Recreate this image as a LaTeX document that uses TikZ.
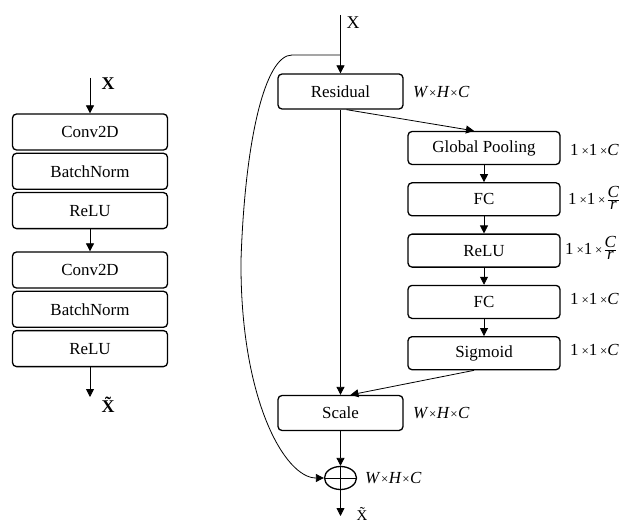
\documentclass[tikz,border=0pt]{standalone}
\usepackage{fontspec}
\setmainfont{Liberation Serif}
\usetikzlibrary{arrows.meta,positioning,shapes.geometric}
\tikzset{
  layer/.style={draw, rounded corners=4bp, line width=1.3bp, minimum height=36bp,
    inner sep=0pt, font=\fontsize{17}{19}\selectfont},
  leftlayer/.style={layer, minimum width=155bp},
  selayer/.style={layer, minimum width=152bp, minimum height=33bp},
  mainlayer/.style={layer, minimum width=125bp, minimum height=35bp},
  dimlabel/.style={anchor=west, inner sep=0pt, font=\fontsize{17}{19}\selectfont},
  flow/.style={line width=0.8bp, -{Triangle[length=8bp,width=8bp]}},
}
\newcommand{\tm}{{\fontsize{13}{13}\selectfont×}}
\newcommand{\dimWHC}{\textit{W}\kern0.5bp\tm\kern0.5bp\textit{H}\kern0.5bp\tm\kern0.5bp\textit{C}}
\newcommand{\dimOOC}{1\,\tm1\,\tm\textit{C}}
\newcommand{\dimOOCr}{1\,\tm1\,\tm\kern1bp$\frac{\hbox{\textit{C}}}{\hbox{\textit{r}}}$}
\begin{document}
\begin{tikzpicture}[x=1bp,y=-1bp]
\useasboundingbox (0,0) rectangle (628,524);

% plain block
\node[leftlayer] (convA) at (90,132) {Conv2D};
\node[leftlayer, below=2bp of convA] (bnA) {BatchNorm};
\node[leftlayer, below=2bp of bnA] (reluA) {ReLU};
\node[leftlayer] (convB) at (90,270) {Conv2D};
\node[leftlayer, below=2bp of convB] (bnB) {BatchNorm};
\node[leftlayer, below=2bp of bnB] (reluB) {ReLU};
\coordinate (inA) at (90,78);
\coordinate (outA) at (90,397);
\node[font=\fontsize{18}{19}\selectfont\bfseries] (xA) at (108,84) {X};
\node[font=\fontsize{18}{19}\selectfont\bfseries] (xtA) at (108,405) {\~{X}};
\draw[flow] (inA) -- (convA);
\draw[flow] (reluA) -- (convB);
\draw[flow] (reluB) -- (outA);

% SE block
\node[mainlayer] (res) at (340.5,91.5) {Residual};
\node[selayer] (pool) at (484,148) {Global Pooling};
\node[selayer, below=17bp of pool] (fcA) {FC};
\node[selayer, below=17bp of fcA] (relu) {ReLU};
\node[selayer, below=17bp of relu] (fcB) {FC};
\node[selayer, below=17bp of fcB] (sig) {Sigmoid};
\node[mainlayer] (scale) at (340.5,413) {Scale};
\node[draw, ellipse, line width=1.3bp, minimum width=32bp, minimum height=23bp,
  inner sep=0pt] (sum) at (340.5,478) {};
\draw[line width=0.8bp] (sum.north) -- (sum.south) (sum.west) -- (sum.east);

\node[dimlabel] (dres) at (413,92) {\dimWHC};
\node[dimlabel] (dpool) at (570,150) {\dimOOC};
\node[dimlabel] (dfcA) at (568,198) {\dimOOCr};
\node[dimlabel] (drelu) at (565,248) {\dimOOCr};
\node[dimlabel] (dfcB) at (570,299) {\dimOOC};
\node[dimlabel] (dsig) at (570,350) {\dimOOC};
\node[dimlabel] (dscale) at (413,413) {\dimWHC};
\node[dimlabel] (dsum) at (365,478) {\dimWHC};

\coordinate (inB) at (340.5,15);
\coordinate (split) at (340.5,55);
\coordinate (outB) at (340.5,516);
\node[font=\fontsize{18}{19}\selectfont] (xB) at (353,23) {X};
\node[font=\fontsize{15}{16}\selectfont] (xtB) at (362,514) {\~{X}};

\draw[flow] (inB) -- (res);
\draw[flow] (res) -- (scale);
\draw[flow] ([xshift=6bp]res.south) -- ([xshift=-10bp]pool.north);
\draw[flow] (pool) -- (fcA);
\draw[flow] (fcA) -- (relu);
\draw[flow] (relu) -- (fcB);
\draw[flow] (fcB) -- (sig);
\draw[flow] ([xshift=-10bp]sig.south) -- ([xshift=10bp]scale.north);
\draw[flow] (scale) -- (sum);
\draw[flow] (split) -- (292,55) .. controls (265,55) and (245,140) .. (241,260)
  .. controls (240,400) and (285,478) .. (sum.west);
\draw[flow] (sum) -- (outB);
\end{tikzpicture}
\end{document}
